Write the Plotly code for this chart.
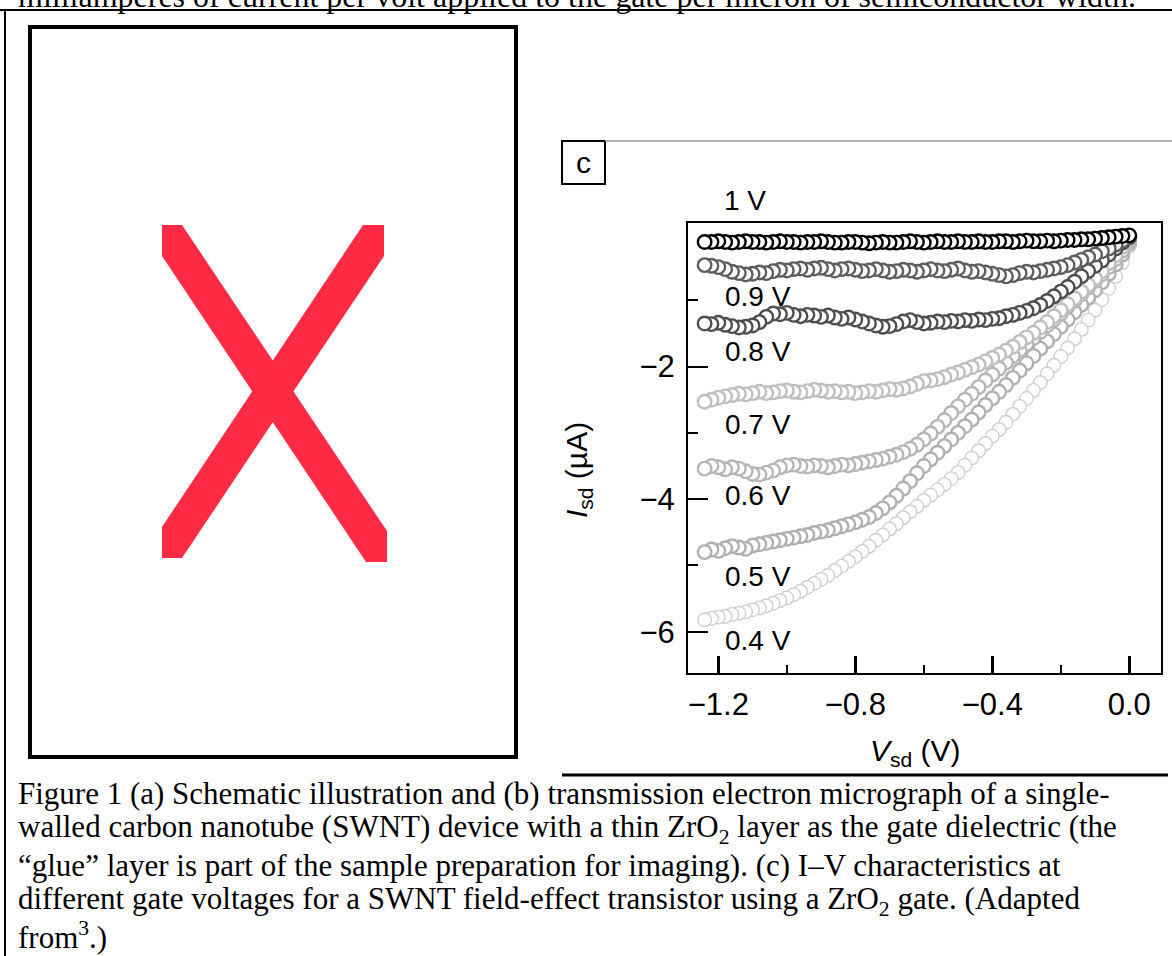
import plotly.graph_objects as go

W, H = 1172, 956


def px(x):
    return x / W


def py(y):
    return 1 - y / H


# ---------------- data ----------------
V_SD = [-1.24, -1.22, -1.20, -1.18, -1.16, -1.14, -1.12, -1.10, -1.08, -1.06,
        -1.04, -1.02, -1.00, -0.98, -0.96, -0.94, -0.92, -0.90, -0.88, -0.86,
        -0.84, -0.82, -0.80, -0.78, -0.76, -0.74, -0.72, -0.70, -0.68, -0.66,
        -0.64, -0.62, -0.60, -0.58, -0.56, -0.54, -0.52, -0.50, -0.48, -0.46,
        -0.44, -0.42, -0.40, -0.38, -0.36, -0.34, -0.32, -0.30, -0.28, -0.26,
        -0.24, -0.22, -0.20, -0.18, -0.16, -0.14, -0.12, -0.10, -0.08, -0.06,
        -0.04, -0.02, 0.00]

I_1V = [-0.12, -0.12, -0.11, -0.12, -0.13, -0.12, -0.11, -0.12, -0.12, -0.13,
        -0.12, -0.11, -0.12, -0.12, -0.13, -0.12, -0.12, -0.11, -0.12, -0.13,
        -0.13, -0.12, -0.12, -0.13, -0.14, -0.13, -0.12, -0.13, -0.13, -0.12,
        -0.11, -0.12, -0.13, -0.12, -0.11, -0.12, -0.12, -0.11, -0.12, -0.12,
        -0.11, -0.12, -0.12, -0.11, -0.11, -0.12, -0.11, -0.10, -0.11, -0.11,
        -0.10, -0.11, -0.10, -0.09, -0.09, -0.08, -0.08, -0.07, -0.06, -0.05,
        -0.04, -0.03, -0.02]

I_09V = [-0.47, -0.48, -0.50, -0.53, -0.57, -0.59, -0.61, -0.60, -0.58, -0.59,
         -0.56, -0.54, -0.55, -0.53, -0.52, -0.54, -0.52, -0.51, -0.53, -0.55,
         -0.53, -0.52, -0.54, -0.56, -0.55, -0.53, -0.55, -0.57, -0.56, -0.54,
         -0.55, -0.57, -0.55, -0.53, -0.55, -0.56, -0.54, -0.52, -0.55, -0.57,
         -0.56, -0.58, -0.60, -0.62, -0.64, -0.62, -0.59, -0.57, -0.58, -0.56,
         -0.54, -0.52, -0.50, -0.47, -0.43, -0.39, -0.35, -0.31, -0.26, -0.22,
         -0.16, -0.10, -0.05]

I_08V = [-1.35, -1.36, -1.34, -1.37, -1.39, -1.41, -1.40, -1.38, -1.33, -1.25,
         -1.20, -1.21, -1.19, -1.22, -1.24, -1.22, -1.23, -1.25, -1.23, -1.26,
         -1.28, -1.26, -1.29, -1.32, -1.35, -1.38, -1.40, -1.39, -1.36, -1.32,
         -1.30, -1.33, -1.35, -1.34, -1.32, -1.33, -1.31, -1.32, -1.30, -1.31,
         -1.29, -1.30, -1.28, -1.27, -1.24, -1.22, -1.19, -1.16, -1.12, -1.07,
         -1.01, -0.94, -0.87, -0.80, -0.72, -0.64, -0.56, -0.48, -0.40, -0.31,
         -0.22, -0.13, -0.05]

I_07V = [-2.53, -2.50, -2.47, -2.45, -2.43, -2.41, -2.42, -2.40, -2.38, -2.40,
         -2.39, -2.37, -2.36, -2.38, -2.39, -2.37, -2.35, -2.36, -2.38, -2.37,
         -2.39, -2.38, -2.40, -2.39, -2.37, -2.38, -2.36, -2.34, -2.35, -2.33,
         -2.30, -2.26, -2.22, -2.21, -2.19, -2.16, -2.12, -2.09, -2.05, -2.01,
         -1.97, -1.92, -1.87, -1.82, -1.76, -1.70, -1.63, -1.56, -1.49, -1.41,
         -1.33, -1.24, -1.15, -1.06, -0.97, -0.87, -0.77, -0.67, -0.56, -0.44,
         -0.32, -0.19, -0.07]

I_06V = [-3.54, -3.50, -3.52, -3.55, -3.52, -3.54, -3.58, -3.62, -3.63, -3.60,
         -3.57, -3.52, -3.49, -3.48, -3.50, -3.51, -3.49, -3.50, -3.52, -3.50,
         -3.48, -3.49, -3.47, -3.45, -3.43, -3.41, -3.39, -3.36, -3.33, -3.29,
         -3.24, -3.18, -3.10, -3.01, -2.91, -2.81, -2.70, -2.60, -2.50, -2.41,
         -2.31, -2.21, -2.12, -2.03, -1.94, -1.84, -1.75, -1.66, -1.57, -1.48,
         -1.38, -1.29, -1.20, -1.10, -1.01, -0.91, -0.81, -0.71, -0.61, -0.50,
         -0.38, -0.25, -0.10]

I_05V = [-4.80, -4.76, -4.78, -4.74, -4.71, -4.73, -4.75, -4.70, -4.68, -4.66,
         -4.64, -4.62, -4.60, -4.58, -4.56, -4.54, -4.51, -4.49, -4.47, -4.44,
         -4.41, -4.38, -4.35, -4.31, -4.27, -4.21, -4.14, -4.05, -3.95, -3.84,
         -3.73, -3.61, -3.50, -3.40, -3.30, -3.20, -3.10, -3.00, -2.90, -2.80,
         -2.69, -2.58, -2.48, -2.38, -2.28, -2.17, -2.06, -1.95, -1.84, -1.73,
         -1.62, -1.51, -1.40, -1.29, -1.18, -1.07, -0.96, -0.85, -0.73, -0.60,
         -0.46, -0.31, -0.14]

I_04V = [-5.82, -5.80, -5.78, -5.77, -5.74, -5.72, -5.70, -5.67, -5.64, -5.61,
         -5.57, -5.53, -5.49, -5.44, -5.39, -5.33, -5.27, -5.21, -5.15, -5.08,
         -5.01, -4.94, -4.87, -4.79, -4.71, -4.62, -4.54, -4.45, -4.37, -4.28,
         -4.19, -4.11, -4.02, -3.94, -3.86, -3.78, -3.69, -3.60, -3.49, -3.38,
         -3.27, -3.16, -3.05, -2.95, -2.84, -2.72, -2.60, -2.48, -2.36, -2.24,
         -2.11, -1.98, -1.85, -1.72, -1.58, -1.44, -1.30, -1.15, -0.99, -0.82,
         -0.64, -0.43, -0.18]

GATE_LABELS = ["0.4 V", "0.5 V", "0.6 V", "0.7 V", "0.8 V", "0.9 V", "1 V"]
SERIES = [I_04V, I_05V, I_06V, I_07V, I_08V, I_09V, I_1V]
LABEL_Y = [-6.13, -5.16, -3.94, -2.88, -1.77, -0.95, 0.50]

X_TICKS = [-1.2, -0.8, -0.4, 0.0]
X_TICK_TEXT = ["\u22121.2", "\u22120.8", "\u22120.4", "0.0"]
X_MINOR = [-1.0, -0.6, -0.2]
Y_TICKS = [-6, -4, -2]
Y_TICK_TEXT = ["\u22126", "\u22124", "\u22122"]
Y_MINOR = [-5, -3, -1]

CAPTION_LINES = [
    "Figure 1 (a) Schematic illustration and (b) transmission electron micrograph of a single-",
    "walled carbon nanotube (SWNT) device with a thin ZrO<sub>2</sub> layer as the gate dielectric (the",
    "\u201cglue\u201d layer is part of the sample preparation for imaging). (c) I\u2013V characteristics at",
    "different gate voltages for a SWNT field-effect transistor using a ZrO<sub>2</sub> gate. (Adapted",
    "from<sup>3</sup>.)",
]
TOP_TEXT = "milliamperes of current per volt applied to the gate per micron of semiconductor width."

# ---------------- styles ----------------
colors = ["#cdcdcd", "#b0b0b0", "#b6b6b6", "#bfbfbf", "#4e4e4e", "#5e5e5e", "#000000"]
widths = [1.3, 2.4, 2.4, 2.4, 2.4, 2.4, 2.4]
SANS = "Liberation Sans, Arial, sans-serif"
SERIF = "Liberation Serif, Times New Roman, serif"

fig = go.Figure()
for lab, ys, c, w in zip(GATE_LABELS, SERIES, colors, widths):
    fig.add_trace(go.Scatter(
        x=V_SD[::-1], y=ys[::-1], mode="markers", name=lab,
        marker=dict(symbol="circle", size=13.5, color="white",
                    line=dict(color=c, width=w)),
        showlegend=False, hoverinfo="x+y"))

label_x = -1.186
for lab, ly in zip(GATE_LABELS[:-1], LABEL_Y[:-1]):
    fig.add_annotation(x=label_x, y=ly, xref="x", yref="y", text=lab,
                       showarrow=False, xanchor="left", yanchor="middle",
                       font=dict(family=SANS, size=28, color="black"))
# top label sits above the frame
fig.add_annotation(x=px(722), y=py(200), xref="paper", yref="paper", text=GATE_LABELS[-1],
                   showarrow=False, xanchor="left", yanchor="middle",
                   font=dict(family=SANS, size=28, color="black"))

# axis titles
fig.add_annotation(x=px(578), y=py(470), xref="paper", yref="paper",
                   xanchor="center", yanchor="middle",
                   text="<i>I</i><sub>sd</sub> (\u00b5A)", textangle=-90,
                   showarrow=False, font=dict(family=SANS, size=30, color="black"))
fig.add_annotation(x=px(915), y=py(752), xref="paper", yref="paper",
                   xanchor="center", yanchor="middle",
                   text="<i>V</i><sub>sd</sub> (V)",
                   showarrow=False, font=dict(family=SANS, size=30, color="black"))

# panel letter
fig.add_annotation(x=px(583.5), y=py(163), xref="paper", yref="paper", text="c",
                   xanchor="center", yanchor="middle",
                   showarrow=False, font=dict(family=SANS, size=30, color="black"))

# page texts
fig.add_annotation(x=px(16), y=py(16), xref="paper", yref="paper",
                   xanchor="left", yanchor="bottom", text=TOP_TEXT,
                   showarrow=False, font=dict(family=SERIF, size=32, color="black"))

CAPTION_Y = [793, 829, 865, 901, 935]
for line, cy in zip(CAPTION_LINES, CAPTION_Y):
    fig.add_annotation(x=px(16), y=py(cy), xref="paper", yref="paper",
                       xanchor="left", yanchor="middle", align="left",
                       text=line, showarrow=False,
                       font=dict(family=SERIF, size=31, color="black"))

P = dict(xref="paper", yref="paper")
shapes = [
    # page frame
    dict(type="line", x0=0, x1=1, y0=py(10), y1=py(10), line=dict(color="black", width=2), **P),
    dict(type="line", x0=px(5), x1=px(5), y0=py(10), y1=0, line=dict(color="black", width=2), **P),
    dict(type="line", x0=px(562), x1=px(1168), y0=py(775), y1=py(775), line=dict(color="black", width=3), **P),
    # left placeholder frame
    dict(type="rect", x0=px(30), x1=px(516), y0=py(757), y1=py(27), line=dict(color="black", width=4), **P),
    # red X
    dict(type="path", fillcolor="#ff2b45", line=dict(width=0), **P,
         path="M {} {} L {} {} L {} {} L {} {} L {} {} L {} {} Z".format(
             px(162), py(225), px(182), py(225), px(387), py(531), px(387), py(562),
             px(366), py(562), px(162), py(256))),
    dict(type="path", fillcolor="#ff2b45", line=dict(width=0), **P,
         path="M {} {} L {} {} L {} {} L {} {} L {} {} L {} {} Z".format(
             px(363), py(225), px(384), py(225), px(384), py(256), px(182), py(558),
             px(162), py(558), px(162), py(527))),
    # panel c box and rule
    dict(type="rect", x0=px(562), x1=px(605), y0=py(184), y1=py(141), line=dict(color="black", width=2), **P),
    dict(type="line", x0=px(605), x1=1, y0=py(141), y1=py(141), line=dict(color="#999999", width=1.5), **P),
]

fig.update_layout(
    width=W, height=H, margin=dict(l=0, r=0, t=0, b=0),
    paper_bgcolor="white", plot_bgcolor="white", showlegend=False,
    shapes=shapes,
    xaxis=dict(domain=[px(688), px(1161)], range=[-1.2885, 0.0926],
               tickmode="array", tickvals=X_TICKS, ticktext=X_TICK_TEXT,
               ticks="inside", ticklen=17, tickwidth=2.5, tickcolor="black",
               minor=dict(tickvals=X_MINOR, ticks="inside", ticklen=8, tickwidth=2,
                          tickcolor="black", showgrid=False),
               showline=True, mirror=True, linecolor="black", linewidth=2,
               showgrid=False, zeroline=False, ticklabelstandoff=3,
               tickfont=dict(family=SANS, size=31, color="black")),
    yaxis=dict(domain=[py(673), py(223)], range=[-6.623, 0.166],
               tickmode="array", tickvals=Y_TICKS, ticktext=Y_TICK_TEXT,
               ticks="inside", ticklen=20, tickwidth=2, tickcolor="black",
               minor=dict(tickvals=Y_MINOR, ticks="inside", ticklen=10, tickwidth=2,
                          tickcolor="black", showgrid=False),
               showline=True, mirror=True, linecolor="black", linewidth=2,
               showgrid=False, zeroline=False, ticklabelstandoff=5,
               tickfont=dict(family=SANS, size=31, color="black")),
)

fig.write_html("out.html", config={"displayModeBar": False},
               post_script="document.body.style.margin='0';")
